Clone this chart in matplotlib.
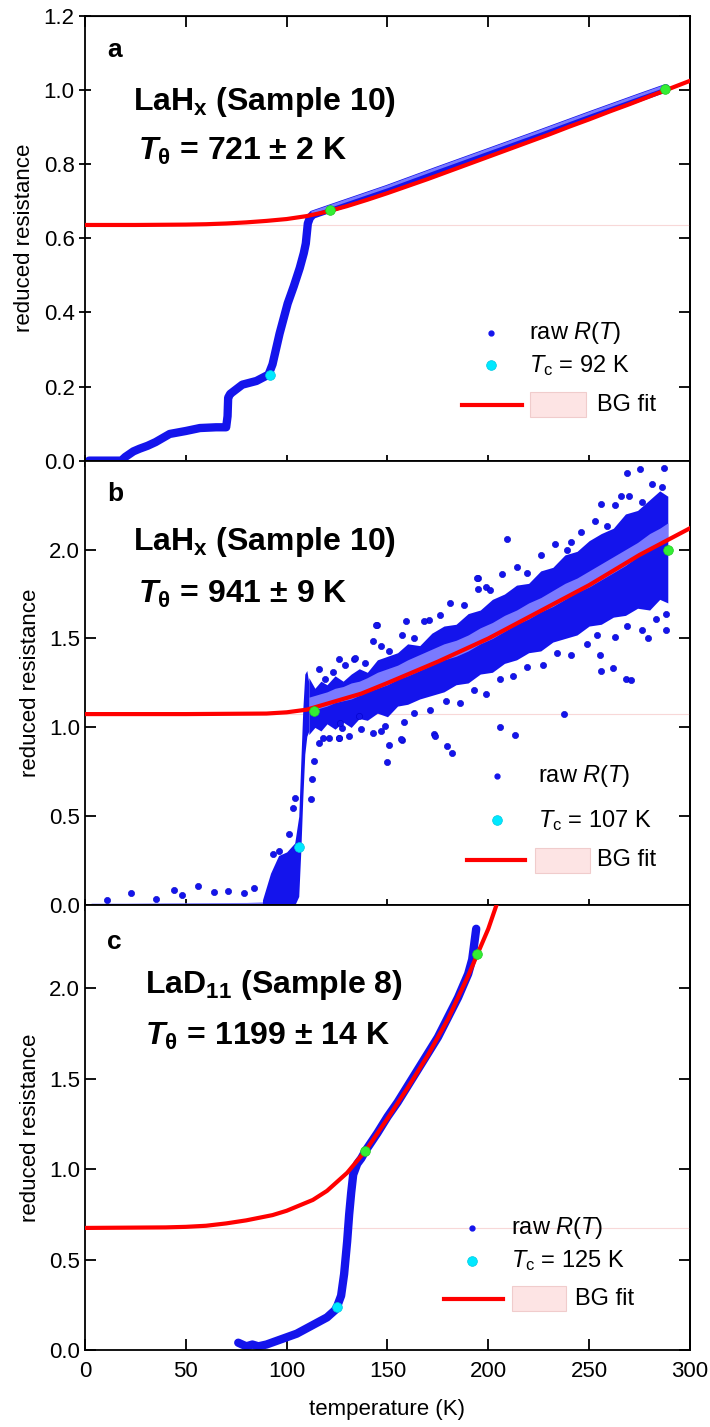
import matplotlib
matplotlib.use('Agg')
import matplotlib.pyplot as plt
from matplotlib.patches import Rectangle

plt.rcParams['font.family'] = 'Liberation Sans'
plt.rcParams['mathtext.fontset'] = 'custom'
plt.rcParams['mathtext.rm'] = 'Liberation Sans'
plt.rcParams['mathtext.it'] = 'Liberation Sans:italic'
plt.rcParams['mathtext.bf'] = 'Liberation Sans:bold'
plt.rcParams['mathtext.bfit'] = 'Liberation Sans:italic:bold'

# ---------------- panel a : LaHx sample 10 ----------------
a_T = [2, 10, 18, 20, 24, 27, 31, 35, 42, 50, 57, 65, 70, 70.7, 71, 72, 78, 85, 91,
       93, 96.5, 100.5, 103.5, 106.5, 108.5, 109.5, 110.5, 111.5, 113, 121.5, 150,
       175, 200, 225, 250, 275, 288]
a_R = [0.0, 0.0, 0.0, 0.01, 0.025, 0.032, 0.04, 0.05, 0.072, 0.08, 0.088, 0.09, 0.09,
       0.12, 0.17, 0.18, 0.205, 0.215, 0.232, 0.26, 0.343, 0.424, 0.47, 0.52, 0.56,
       0.586, 0.64, 0.655, 0.664, 0.68, 0.733, 0.783, 0.832, 0.881, 0.931, 0.98, 1.005]
a_fitT = [0, 25, 50, 60, 70, 80, 90, 100, 110, 120, 130, 140, 150, 160, 170, 180, 190,
          200, 210, 220, 230, 240, 250, 260, 270, 280, 290, 300]
a_fitR = [0.636, 0.636, 0.637, 0.638, 0.640, 0.643, 0.647, 0.652, 0.660, 0.672, 0.687,
          0.704, 0.722, 0.741, 0.760, 0.780, 0.800, 0.820, 0.840, 0.860, 0.880, 0.901,
          0.921, 0.942, 0.962, 0.983, 1.004, 1.025]
a_R0 = 0.636
a_tc = (91.5, 0.232)
a_green = [(121.5, 0.676), (287.6, 1.003)]

# ---------------- panel b : LaHx sample 10 (noisy) ----------------
b_baseT = [3, 20, 40, 60, 80, 90]
b_baseR = [0.012, 0.012, 0.014, 0.015, 0.016, 0.02]
b_trT = [88, 92, 96, 100, 104, 106, 107, 108, 109, 110, 111]
b_trHi = [0.03, 0.18, 0.28, 0.30, 0.35, 0.50, 0.80, 1.10, 1.30, 1.32, 1.25]
b_trLo = [0.0, 0.0, 0.0, 0.0, 0.0, 0.05, 0.30, 0.60, 0.85, 0.95, 0.98]
b_cloudT = [111, 114, 117, 120, 124, 128, 132, 136, 140, 145, 150, 155, 160, 166, 172,
            178, 184, 190, 196, 202, 208, 214, 220, 226, 232, 238, 244, 250, 256, 262,
            268, 274, 280, 285, 289]
b_cloudHi = [1.28, 1.22, 1.26, 1.24, 1.29, 1.26, 1.30, 1.33, 1.31, 1.38, 1.40, 1.42,
             1.47, 1.46, 1.53, 1.57, 1.58, 1.64, 1.66, 1.72, 1.75, 1.80, 1.81, 1.88,
             1.90, 1.97, 1.99, 2.05, 2.09, 2.12, 2.20, 2.22, 2.28, 2.33, 2.30]
b_cloudLo = [0.96, 1.00, 0.98, 1.02, 0.99, 1.03, 1.00, 1.05, 1.04, 1.08, 1.06, 1.12,
             1.13, 1.16, 1.18, 1.20, 1.24, 1.25, 1.30, 1.31, 1.36, 1.38, 1.42, 1.43,
             1.48, 1.50, 1.52, 1.57, 1.58, 1.62, 1.63, 1.67, 1.66, 1.72, 1.70]
b_coreHi = [1.17, 1.18, 1.19, 1.20, 1.22, 1.23, 1.25, 1.26, 1.28, 1.31, 1.33, 1.35,
            1.38, 1.41, 1.44, 1.47, 1.49, 1.52, 1.56, 1.59, 1.63, 1.66, 1.70, 1.73,
            1.77, 1.81, 1.84, 1.88, 1.92, 1.96, 2.00, 2.04, 2.09, 2.12, 2.15]
b_coreLo = [1.09, 1.10, 1.11, 1.12, 1.14, 1.15, 1.16, 1.18, 1.20, 1.22, 1.24, 1.27,
            1.29, 1.32, 1.35, 1.38, 1.40, 1.43, 1.47, 1.50, 1.54, 1.58, 1.61, 1.65,
            1.68, 1.72, 1.76, 1.79, 1.83, 1.87, 1.91, 1.96, 2.00, 2.03, 2.06]
b_outT = [11, 23, 35, 44, 48, 56, 64, 71, 79, 84, 93, 96, 101, 103, 104, 112, 112.6,
          113.4, 118, 126, 127.5, 135.8, 147, 125.9, 133.3, 144.6, 143, 159.3, 170.5,
          194.9, 198.7, 149.8, 150.6, 157.3, 125.8, 173, 179.6, 182, 126.7, 269, 275,
          287.3, 255.8, 265.8, 209.1, 240.9, 194.5, 144.4, 255.8, 261.6, 268.2, 271,
          237.6, 205.8, 213.3, 156.8, 173.4, 279, 288, 255.4,
          116, 119, 123, 129, 134, 139, 147, 151, 157, 163, 168, 176, 181, 188, 195,
          201, 207, 214, 219, 226, 233, 239, 246, 253, 259, 263, 270, 276, 281, 286,
          116, 121, 131, 137, 143, 149, 158, 163, 171, 179, 186, 193, 199, 206, 212,
          219, 227, 234, 241, 249, 254, 263, 269, 276, 283, 288]
b_outR = [0.028, 0.067, 0.037, 0.088, 0.057, 0.107, 0.075, 0.08, 0.07, 0.10, 0.286,
          0.308, 0.40, 0.545, 0.603, 0.597, 0.71, 0.812, 0.943, 0.939, 0.999, 1.064,
          0.98, 1.382, 1.382, 1.574, 1.485, 1.596, 1.605, 1.839, 1.792, 0.803, 0.902,
          0.928, 0.943, 0.961, 0.896, 0.859, 1.027, 2.428, 2.452, 2.46, 2.254, 2.302,
          2.06, 2.045, 1.839, 1.578, 1.317, 1.332, 1.27, 1.264, 1.077, 1.003, 0.958,
          0.934, 0.952, 1.503, 1.55, 1.41,
          1.33, 1.27, 1.31, 1.35, 1.39, 1.36, 1.46, 1.43, 1.52, 1.50, 1.60, 1.63, 1.70,
          1.69, 1.78, 1.77, 1.86, 1.90, 1.87, 1.97, 2.03, 2.00, 2.10, 2.16, 2.13, 2.25,
          2.30, 2.27, 2.37, 2.35,
          0.91, 0.94, 0.95, 0.99, 0.97, 1.01, 1.03, 1.08, 1.10, 1.15, 1.14, 1.21, 1.19,
          1.27, 1.29, 1.34, 1.35, 1.42, 1.41, 1.47, 1.52, 1.51, 1.57, 1.55, 1.61, 1.64]
b_fitT = [0, 50, 90, 100, 110, 125, 137, 150, 175, 200, 225, 250, 275, 300]
b_fitR = [1.075, 1.075, 1.078, 1.085, 1.10, 1.15, 1.19, 1.25, 1.37, 1.50, 1.65, 1.80,
          1.97, 2.12]
b_R0 = 1.075
b_tc = (106, 0.325)
b_green = [(113.5, 1.09), (289, 1.995)]

# ---------------- panel c : LaD11 sample 8 ----------------
c_T = [76, 78, 80, 83, 86, 90, 95, 100, 105, 110, 115, 120, 124, 125, 127, 128.5, 130,
       131, 132, 133, 135, 137, 139, 145, 150, 155, 160, 165, 170, 175, 180, 185, 190,
       192, 194]
c_R = [0.04, 0.03, 0.02, 0.03, 0.02, 0.03, 0.05, 0.07, 0.09, 0.12, 0.15, 0.18, 0.22,
       0.24, 0.30, 0.42, 0.60, 0.75, 0.87, 0.97, 1.03, 1.06, 1.10, 1.20, 1.29, 1.37,
       1.46, 1.55, 1.64, 1.73, 1.84, 1.95, 2.08, 2.16, 2.33]
c_fitT = [0, 40, 50, 60, 70, 80, 93, 100, 113, 120, 130, 139, 150, 160, 170, 180, 190,
          195, 200, 204]
c_fitR = [0.675, 0.678, 0.681, 0.687, 0.70, 0.717, 0.746, 0.77, 0.83, 0.88, 0.98, 1.10,
          1.28, 1.45, 1.63, 1.83, 2.07, 2.20, 2.33, 2.46]
c_R0 = 0.675
c_tc = (125, 0.24)
c_green = [(139, 1.10), (194.5, 2.19)]

BLUE = '#1414ec'
LIGHT = '#7a7aff'
RED = '#ff0000'
PINK = '#f8d8d8'

fig, axes = plt.subplots(3, 1, figsize=(7.1, 14.27), dpi=100, sharex=True)
fig.subplots_adjust(left=0.1197, right=0.9718, top=0.9888, bottom=0.054, hspace=0)
ax_a, ax_b, ax_c = axes

# panel a
ax_a.axhline(a_R0, color=PINK, lw=0.8, zorder=1)
ax_a.plot(a_T, a_R, color=BLUE, lw=6, solid_capstyle='round', solid_joinstyle='round', zorder=2)
ax_a.plot(a_T[28:], [r + 0.006 for r in a_R[28:]], color=LIGHT, lw=2, zorder=2)
ax_a.plot(a_fitT, a_fitR, color=RED, lw=3, zorder=3)

# panel b
ax_b.axhline(b_R0, color=PINK, lw=0.8, zorder=1)
ax_b.fill_between(b_baseT, 0, b_baseR, color=LIGHT, lw=0, zorder=2)
ax_b.fill_between(b_trT, b_trLo, b_trHi, color=BLUE, lw=0, zorder=2)
ax_b.fill_between(b_cloudT, b_cloudLo, b_cloudHi, color=BLUE, lw=0, zorder=2)
ax_b.fill_between(b_cloudT, b_coreLo, b_coreHi, color=LIGHT, lw=0, zorder=2)
ax_b.plot(b_outT, b_outR, 'o', color=BLUE, ms=4.5, mec='#0000c8', mew=0.4, zorder=2)
ax_b.plot(b_fitT, b_fitR, color=RED, lw=3, zorder=3)

# panel c
ax_c.axhline(c_R0, color=PINK, lw=0.8, zorder=1)
ax_c.plot(c_T, c_R, color=BLUE, lw=6, solid_capstyle='round', solid_joinstyle='round', zorder=2)
ax_c.plot(c_fitT, c_fitR, color=RED, lw=3, zorder=3)

for ax, tc, greens in [(ax_a, a_tc, a_green), (ax_b, b_tc, b_green), (ax_c, c_tc, c_green)]:
    ax.plot([tc[0]], [tc[1]], 'o', color='#00e8ff', ms=7, mec='#00c8e0', mew=0.5, zorder=5)
    ax.plot([g[0] for g in greens], [g[1] for g in greens], 'o', color='#33ee33',
            ms=7, mec='#22cc22', mew=0.5, zorder=5)

ax_a.set_ylim(0, 1.2)
ax_a.set_yticks([0, 0.2, 0.4, 0.6, 0.8, 1.0, 1.2])
ax_a.set_yticklabels(['0.0', '0.2', '0.4', '0.6', '0.8', '1.0', '1.2'])
ax_b.set_ylim(0, 2.5)
ax_b.set_yticks([0, 0.5, 1.0, 1.5, 2.0])
ax_b.set_yticklabels(['0.0', '0.5', '1.0', '1.5', '2.0'])
ax_c.set_ylim(0, 2.46)
ax_c.set_yticks([0, 0.5, 1.0, 1.5, 2.0])
ax_c.set_yticklabels(['0.0', '0.5', '1.0', '1.5', '2.0'])
ax_c.set_xlim(0, 300)
ax_c.set_xticks([0, 50, 100, 150, 200, 250, 300])
ax_c.set_xlabel('temperature (K)', fontsize=16, labelpad=12)

for ax in axes:
    ax.set_ylabel('reduced resistance', fontsize=16, labelpad=6)
    for s in ax.spines.values():
        s.set_linewidth(1.3)
    ax.tick_params(axis='both', labelsize=16, width=1.3, length=8)
    sec = ax.secondary_yaxis('right')
    sec.set_yticks(ax.get_yticks())
    sec.tick_params(direction='in', length=8, width=1.3, labelright=False)
    sec.spines['right'].set_linewidth(1.3)

ax_a.tick_params(axis='y', direction='inout')
ax_b.tick_params(axis='y', direction='in')
ax_c.tick_params(axis='y', direction='in')
ax_a.tick_params(axis='x', direction='inout')
ax_b.tick_params(axis='x', direction='inout')
ax_c.tick_params(axis='x', direction='in', pad=8)
top = ax_a.secondary_xaxis('top')
top.set_xticks([0, 50, 100, 150, 200, 250, 300])
top.tick_params(direction='in', length=8, width=1.3, labeltop=False)

# panel texts
for ax, letter, name, theta, ys in [
        (ax_a, 'a', r'LaH$_\mathbf{x}$ (Sample 10)', r'$\mathbfit{T}_\mathbf{\theta}$ = 721 ± 2 K',
         (0.923, 0.788, 0.676, 0.079, 0.088)),
        (ax_b, 'b', r'LaH$_\mathbf{x}$ (Sample 10)', r'$\mathbfit{T}_\mathbf{\theta}$ = 941 ± 9 K',
         (0.926, 0.798, 0.679, 0.079, 0.088)),
        (ax_c, 'c', r'LaD$_\mathbf{11}$ (Sample 8)', r'$\mathbfit{T}_\mathbf{\theta}$ = 1199 ± 14 K',
         (0.917, 0.802, 0.685, 0.10, 0.099))]:
    ax.text(0.036, ys[0], letter, transform=ax.transAxes, fontsize=19, fontweight='bold',
            va='center', ha='left')
    ax.text(ys[3], ys[1], name, transform=ax.transAxes, fontsize=23, fontweight='bold',
            va='baseline', ha='left')
    ax.text(ys[4], ys[2], theta, transform=ax.transAxes, fontsize=23, fontweight='bold',
            va='baseline', ha='left')


def legend(ax, tc_label, x_dot, x_txt, y_raw, y_tc, y_bg, x_l0, x_l1, x_p0, x_p1, p_h, x_bg):
    t = ax.transAxes
    ax.plot([x_dot], [y_raw], 'o', color=BLUE, ms=3.5, transform=t, clip_on=False)
    ax.plot([x_dot], [y_tc], 'o', color='#00e8ff', ms=7, mec='#00c8e0', mew=0.5,
            transform=t, clip_on=False)
    ax.plot([x_l0, x_l1], [y_bg, y_bg], color=RED, lw=3, transform=t)
    ax.add_patch(Rectangle((x_p0, y_bg - p_h / 2), x_p1 - x_p0, p_h, transform=t,
                           facecolor='#fde4e4', edgecolor='#f0cccc', lw=0.8))
    ax.text(x_txt, y_raw, r'raw $\mathit{R}$($\mathit{T}$)', transform=t, fontsize=17,
            va='center', ha='left')
    ax.text(x_txt, y_tc, r'$\mathit{T}_\mathrm{c}$ = ' + tc_label, transform=t, fontsize=17,
            va='center', ha='left')
    ax.text(x_bg, y_bg, 'BG fit', transform=t, fontsize=17, va='center', ha='left')


legend(ax_a, '92 K', 0.671, 0.734, 0.286, 0.214, 0.126, 0.623, 0.722, 0.736, 0.828, 0.056, 0.846)
legend(ax_b, '107 K', 0.681, 0.749, 0.290, 0.191, 0.101, 0.631, 0.727, 0.744, 0.835, 0.056, 0.847)
legend(ax_c, '125 K', 0.640, 0.704, 0.274, 0.200, 0.115, 0.593, 0.691, 0.706, 0.795, 0.056, 0.81)

fig.savefig('out.png', dpi=100)
